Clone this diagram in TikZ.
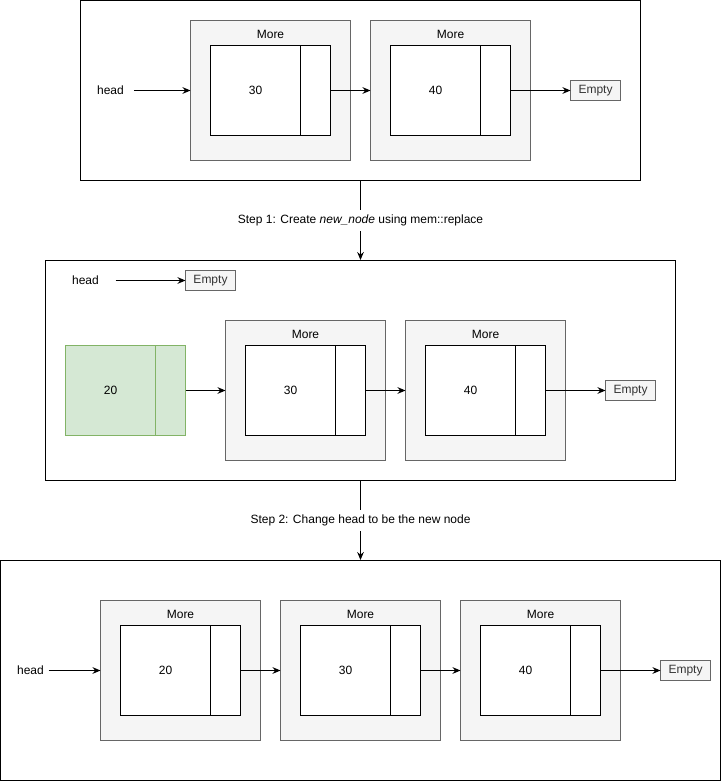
\documentclass[tikz,border=0pt]{standalone}
\usepackage{fontspec}
\setmainfont{Liberation Sans}
\usetikzlibrary{positioning,arrows.meta}
\definecolor{cellgray}{HTML}{F5F5F5}
\definecolor{cellline}{HTML}{666666}
\definecolor{newfill}{HTML}{D5E8D4}
\definecolor{newline}{HTML}{82B366}
\tikzstyle{panel} = [draw=black, line width=0.75pt, rectangle, inner sep=0pt]
\tikzstyle{cell} = [draw=cellline, fill=cellgray, line width=0.75pt, minimum width=120pt, minimum height=105pt, inner sep=0pt, outer sep=0pt]
\tikzstyle{datum} = [draw=black, fill=white, line width=0.75pt, minimum width=67.5pt, minimum height=67.5pt, inner sep=0pt, outer sep=0pt]
\tikzstyle{pointer} = [draw=black, fill=white, line width=0.75pt, minimum width=22.5pt, minimum height=67.5pt, inner sep=0pt, outer sep=0pt]
\tikzstyle{emptybox} = [draw=cellline, fill=cellgray, line width=0.75pt, minimum width=37.5pt, minimum height=15pt, inner sep=0pt, outer sep=0pt, text=black!80]
\tikzstyle{link} = [-{Stealth[length=6pt,width=5pt]}, line width=0.75pt]

\begin{document}
\begin{tikzpicture}[x=0.75pt, y=-0.75pt, font=\fontsize{9}{11}\selectfont]
	\useasboundingbox (-0.5,-0.5) rectangle (721.5,780.5);

	% the three panels
	\node[panel, minimum width=420pt, minimum height=135pt] (p1) at (360,90) {};
	\node[panel, minimum width=472.5pt, minimum height=165pt] (p2) at (360,370) {};
	\node[panel, minimum width=540pt, minimum height=165pt] (p3) at (360,670) {};

	\draw[link] (p1.south) -- node[fill=white]{Step 1: Create \textit{new\_node} using mem::replace} (p2.north);
	\draw[link] (p2.south) -- node[fill=white]{Step 2: Change head to be the new node} (p3.north);

	% panel 1
	\foreach \v/\x [count=\i] in {30/270, 40/450}{
		\node[cell] (a\i) at (\x,90) {};
		\node at ([yshift=-10.5pt]a\i.north) {More};
		\node[datum] (ad\i) at (\x-15,90) {\v};
		\node[pointer, right=0pt of ad\i] (ap\i) {};
	}
	\node (h1) at (110,90) {head};
	\node[emptybox] (e1) at (595,90) {Empty};
	\draw[link] ([xshift=4pt]h1.east) -- (a1.west);
	\draw[link] (ap1.east) -- (a2.west);
	\draw[link] (ap2.east) -- (e1.west);

	% panel 2
	\node (h2) at (85,280) {head};
	\node[emptybox] (e2) at (210,280) {Empty};
	\draw[link] ([xshift=9pt]h2.east) -- (e2.west);
	\node[datum, fill=newfill, draw=newline] (nd) at (110,390) {20};
	\node[pointer, fill=newfill, draw=newline, right=0pt of nd] (np) {};
	\foreach \v/\x [count=\i] in {30/305, 40/485}{
		\node[cell] (b\i) at (\x,390) {};
		\node at ([yshift=-10.5pt]b\i.north) {More};
		\node[datum] (bd\i) at (\x-15,390) {\v};
		\node[pointer, right=0pt of bd\i] (bp\i) {};
	}
	\node[emptybox] (e3) at (630,390) {Empty};
	\draw[link] (np.east) -- (b1.west);
	\draw[link] (bp1.east) -- (b2.west);
	\draw[link] (bp2.east) -- (e3.west);

	% panel 3
	\foreach \v/\x [count=\i] in {20/180, 30/360, 40/540}{
		\node[cell] (c\i) at (\x,670) {};
		\node at ([yshift=-10.5pt]c\i.north) {More};
		\node[datum] (cd\i) at (\x-15,670) {\v};
		\node[pointer, right=0pt of cd\i] (cp\i) {};
	}
	\node (h3) at (30,670) {head};
	\node[emptybox] (e4) at (685,670) {Empty};
	\draw[link] (h3.east) -- (c1.west);
	\draw[link] (cp1.east) -- (c2.west);
	\draw[link] (cp2.east) -- (c3.west);
	\draw[link] (cp3.east) -- (e4.west);
\end{tikzpicture}
\end{document}
